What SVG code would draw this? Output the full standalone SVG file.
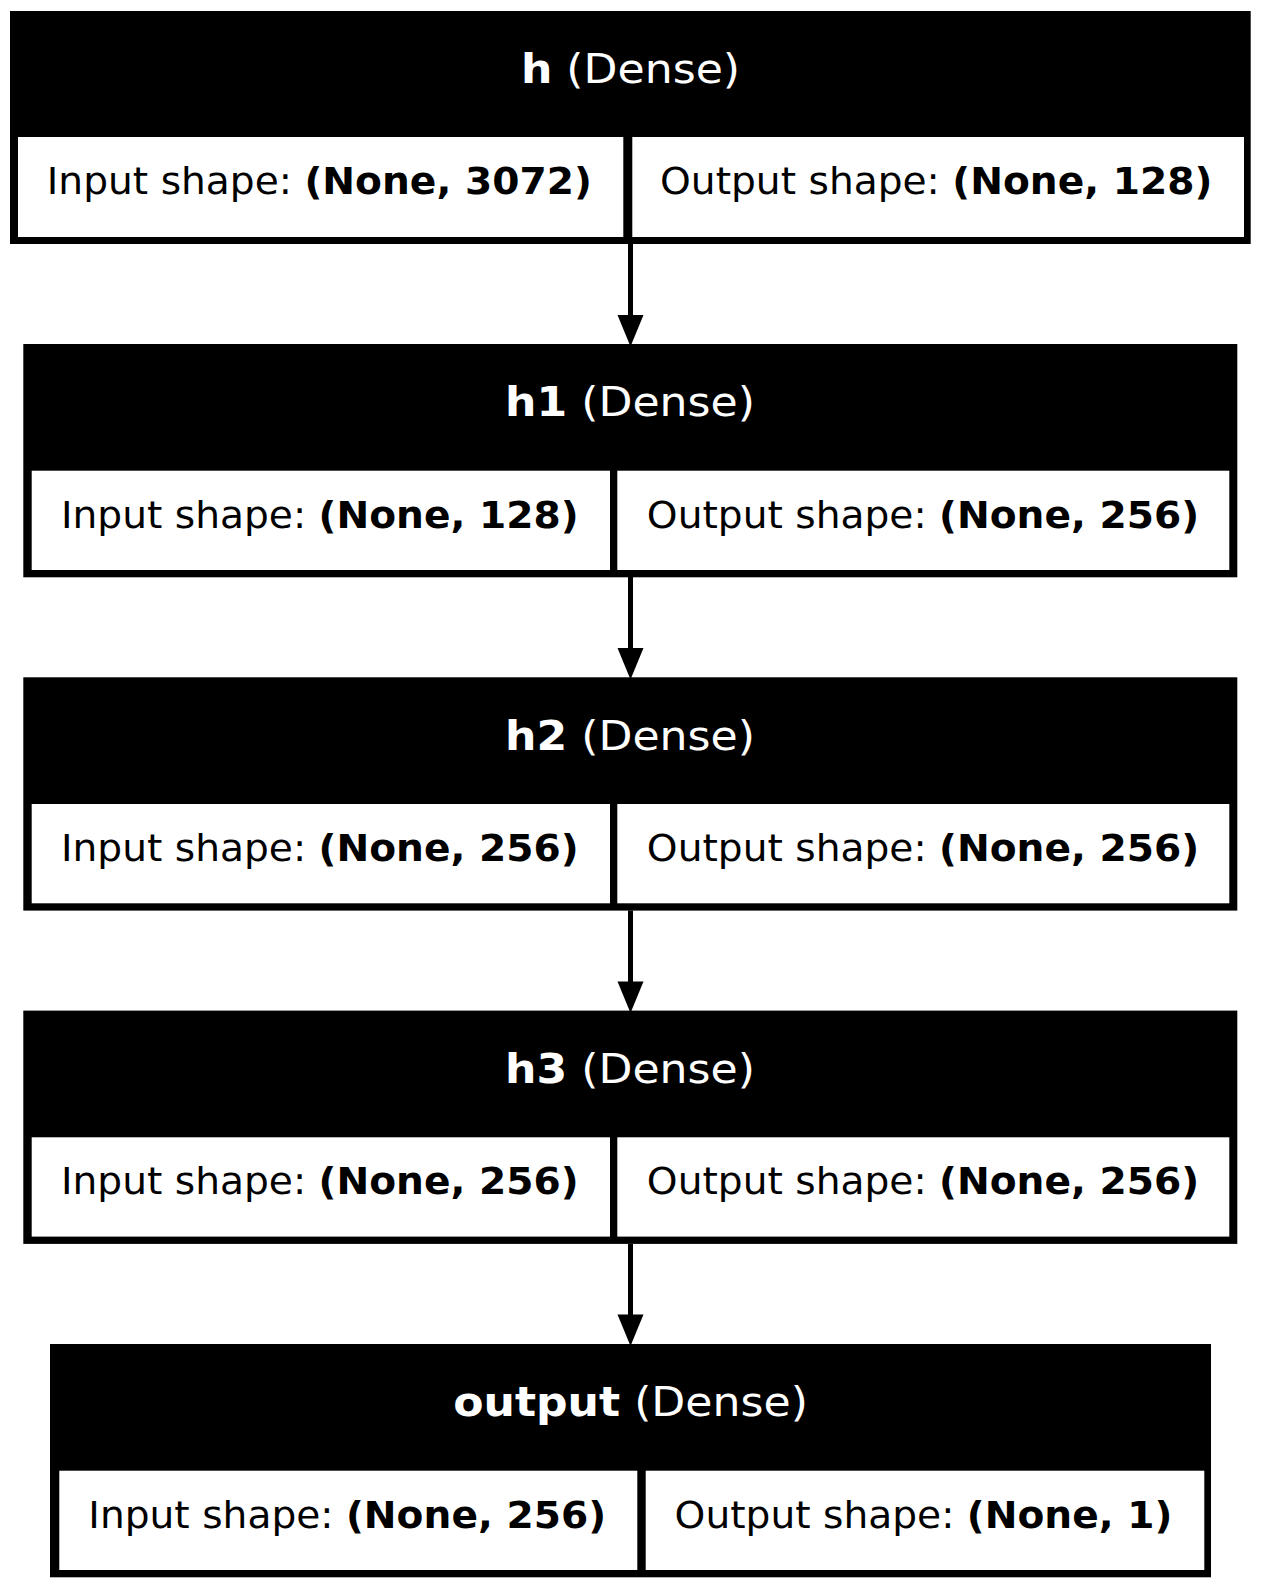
<svg xmlns="http://www.w3.org/2000/svg" width="1261" height="1589" viewBox="0 0 1261 1589">
<style>
.box{fill:#000}
.cell{fill:#fff}
.hd{font-family:"DejaVu Sans",sans-serif;font-size:40.5px;fill:#fff}
.tx{font-family:"DejaVu Sans",sans-serif;font-size:36.5px;fill:#000}
.b{font-weight:bold}
.edge{stroke:#000;stroke-width:5;fill:none}
.head{fill:#000}
</style>
<rect width="1261" height="1589" fill="#fff"/>
<g id="connectors">
<line class="edge" x1="630.5" y1="244" x2="630.5" y2="316"/>
<polygon class="head" points="617.5,315 643.5,315 630.5,346.5"/>
<line class="edge" x1="630.5" y1="577" x2="630.5" y2="649"/>
<polygon class="head" points="617.5,648 643.5,648 630.5,679.5"/>
<line class="edge" x1="630.5" y1="910.5" x2="630.5" y2="982"/>
<polygon class="head" points="617.5,981.5 643.5,981.5 630.5,1013"/>
<line class="edge" x1="630.5" y1="1244" x2="630.5" y2="1315"/>
<polygon class="head" points="617.5,1314.5 643.5,1314.5 630.5,1346"/>
</g>
<g id="node-h">
<rect class="box" x="10" y="11" width="1240.7" height="233"/>
<rect class="cell" x="18" y="137" width="605.3" height="100"/>
<rect class="cell" x="632.3" y="137" width="611.7" height="100"/>
<text class="hd" text-anchor="middle" transform="translate(630.5,83.3) scale(1.09,1)"><tspan class="b">h</tspan> (Dense)</text>
<text class="tx" text-anchor="middle" transform="translate(319.3,194.3) scale(1.073,1)">Input shape: <tspan class="b">(None, 3072)</tspan></text>
<text class="tx" text-anchor="middle" transform="translate(936.2,194.3) scale(1.073,1)">Output shape: <tspan class="b">(None, 128)</tspan></text>
</g>
<g id="node-h1">
<rect class="box" x="23.3" y="344" width="1214" height="233.3"/>
<rect class="cell" x="31.7" y="470.7" width="578.3" height="99.3"/>
<rect class="cell" x="617.3" y="470.7" width="612" height="99.3"/>
<text class="hd" text-anchor="middle" transform="translate(630,416.3) scale(1.09,1)"><tspan class="b">h1</tspan> (Dense)</text>
<text class="tx" text-anchor="middle" transform="translate(319.8,527.5) scale(1.073,1)">Input shape: <tspan class="b">(None, 128)</tspan></text>
<text class="tx" text-anchor="middle" transform="translate(923,527.5) scale(1.073,1)">Output shape: <tspan class="b">(None, 256)</tspan></text>
</g>
<g id="node-h2">
<rect class="box" x="23.3" y="677.3" width="1214" height="233.3"/>
<rect class="cell" x="31.7" y="804" width="578.3" height="99.3"/>
<rect class="cell" x="617.3" y="804" width="612" height="99.3"/>
<text class="hd" text-anchor="middle" transform="translate(630,749.6) scale(1.09,1)"><tspan class="b">h2</tspan> (Dense)</text>
<text class="tx" text-anchor="middle" transform="translate(319.8,860.8) scale(1.073,1)">Input shape: <tspan class="b">(None, 256)</tspan></text>
<text class="tx" text-anchor="middle" transform="translate(923,860.8) scale(1.073,1)">Output shape: <tspan class="b">(None, 256)</tspan></text>
</g>
<g id="node-h3">
<rect class="box" x="23.3" y="1010.6" width="1214" height="233.3"/>
<rect class="cell" x="31.7" y="1137.3" width="578.3" height="99.3"/>
<rect class="cell" x="617.3" y="1137.3" width="612" height="99.3"/>
<text class="hd" text-anchor="middle" transform="translate(630,1082.9) scale(1.09,1)"><tspan class="b">h3</tspan> (Dense)</text>
<text class="tx" text-anchor="middle" transform="translate(319.8,1194.1) scale(1.073,1)">Input shape: <tspan class="b">(None, 256)</tspan></text>
<text class="tx" text-anchor="middle" transform="translate(923,1194.1) scale(1.073,1)">Output shape: <tspan class="b">(None, 256)</tspan></text>
</g>
<g id="node-output">
<rect class="box" x="50" y="1344" width="1161" height="233.3"/>
<rect class="cell" x="59.3" y="1470.7" width="578" height="99.3"/>
<rect class="cell" x="645.7" y="1470.7" width="558.6" height="99.3"/>
<text class="hd" text-anchor="middle" transform="translate(630.5,1416.3) scale(1.09,1)"><tspan class="b">output</tspan> (Dense)</text>
<text class="tx" text-anchor="middle" transform="translate(347.2,1527.5) scale(1.073,1)">Input shape: <tspan class="b">(None, 256)</tspan></text>
<text class="tx" text-anchor="middle" transform="translate(923.5,1527.5) scale(1.073,1)">Output shape: <tspan class="b">(None, 1)</tspan></text>
</g>
</svg>
